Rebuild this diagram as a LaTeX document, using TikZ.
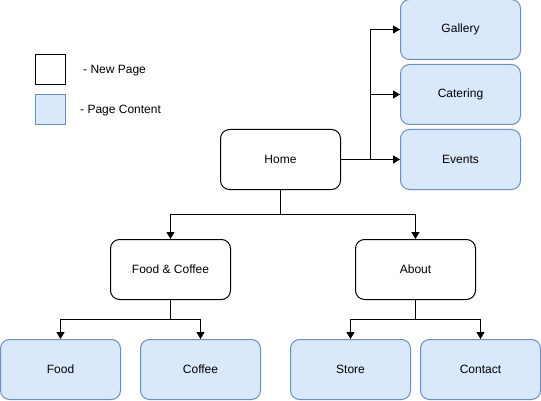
\documentclass[tikz,border=0pt]{standalone}
\usepackage{fontspec}
\setmainfont{Liberation Sans}
\usetikzlibrary{arrows.meta}
\definecolor{cfill}{HTML}{DAE8FC}
\definecolor{cline}{HTML}{6C8EBF}
\begin{document}
\begin{tikzpicture}[x=1pt,y=-1pt,
  page/.style={draw=black,fill=white,rounded corners=9pt,minimum width=120pt,minimum height=60pt,inner sep=0pt,line width=1pt,font=\fontsize{12pt}{14pt}\selectfont},
  content/.style={draw=cline,fill=cfill,rounded corners=9pt,minimum width=120pt,minimum height=60pt,inner sep=0pt,line width=1pt,font=\fontsize{12pt}{14pt}\selectfont},
  conn/.style={draw=black,line width=1pt,-{Triangle[length=7pt,width=7pt,angle'=60]}},
  plain/.style={draw=black,line width=1pt},
  legtext/.style={anchor=west,inner sep=0pt,font=\fontsize{12pt}{14pt}\selectfont}]
\useasboundingbox (0,0) rectangle (541,401);
% legend
\node[draw=black,fill=white,line width=1pt,minimum width=30pt,minimum height=30pt,inner sep=0pt] (lnew) at (50,70) {};
\node[draw=cline,fill=cfill,line width=1pt,minimum width=30pt,minimum height=30pt,inner sep=0pt] (lcont) at (50,110) {};
\node[legtext] (tnew) at (83,71) {- New Page};
\node[legtext] (tcont) at (80,110.5) {- Page Content};
% nodes
\node[page] (home) at (280.5,159.5) {Home};
\node[content] (gallery) at (460.5,29.5) {Gallery};
\node[content] (catering) at (460.5,94.5) {Catering};
\node[content] (events) at (460.5,159.5) {Events};
\node[page] (fc) at (170.5,269.5) {Food \& Coffee};
\node[page] (about) at (415.5,269.5) {About};
\node[content] (food) at (60.5,369.5) {Food};
\node[content] (coffee) at (200.5,369.5) {Coffee};
\node[content] (store) at (350.5,369.5) {Store};
\node[content] (contact) at (480.5,369.5) {Contact};
% connectors
\coordinate (jr) at (370.5,159.5);
\draw[plain] (home.east) -- (jr);
\draw[conn] (jr) -- (events.west);
\draw[conn] (jr) |- (catering.west);
\draw[conn] (jr) |- (gallery.west);
\coordinate (jh) at (280.5,214.5);
\draw[plain] (home.south) -- (jh);
\draw[conn] (jh) -| (fc.north);
\draw[conn] (jh) -| (about.north);
\coordinate (jf) at (170.5,319.5);
\draw[plain] (fc.south) -- (jf);
\draw[conn] (jf) -| (food.north);
\draw[conn] (jf) -| (coffee.north);
\coordinate (ja) at (415.5,319.5);
\draw[plain] (about.south) -- (ja);
\draw[conn] (ja) -| (store.north);
\draw[conn] (ja) -| (contact.north);
\end{tikzpicture}
\end{document}
